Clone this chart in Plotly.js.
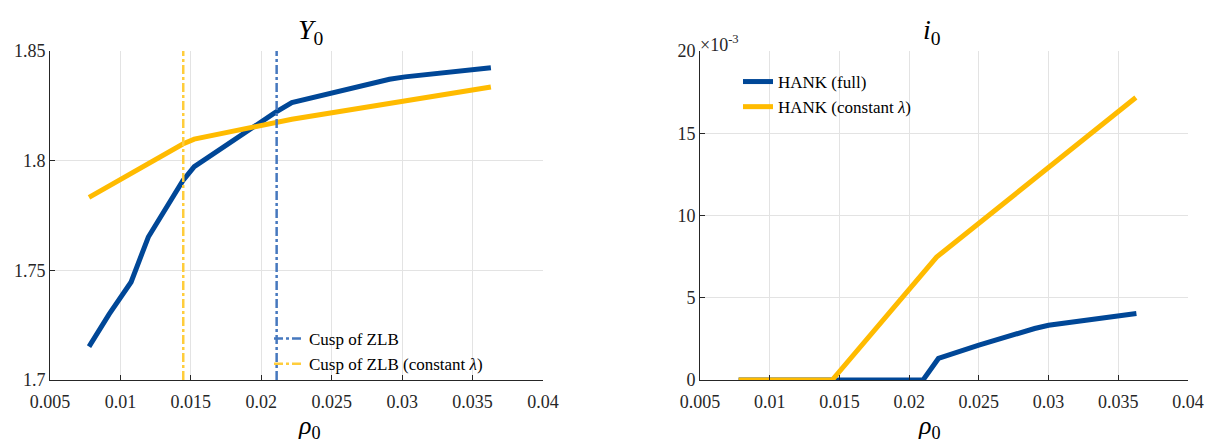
<!DOCTYPE html>
<html><head><meta charset="utf-8">
<script src="https://cdn.plot.ly/plotly-3.0.1.min.js"></script>
<style>html,body{margin:0;padding:0;background:#fff}</style>
</head><body>
<div id="chart" style="width:1211px;height:442px"></div>
<script>
// Left panel: Y0 vs rho0
const rhoFull = [0.00777, 0.0092, 0.01076, 0.01198, 0.01443, 0.01524, 0.0210, 0.02217, 0.0291, 0.0302, 0.0363];
const Y0Full  = [1.7152, 1.7300, 1.7447, 1.7652, 1.7909, 1.7973, 1.8220, 1.8265, 1.8371, 1.8382, 1.8424];
const rhoConst = [0.00777, 0.01443, 0.01524, 0.02217, 0.0363];
const Y0Const  = [1.7833, 1.8076, 1.8098, 1.8189, 1.8336];
// ZLB cusps
const cuspFull = 0.02109;
const cuspConst = 0.01446;
// Right panel: i0 vs rho0
const rhoI_Full = [0.00777, 0.0210, 0.0221, 0.0250, 0.0290, 0.0300, 0.0363];
const i0Full    = [0.0, 0.0, 0.00131, 0.00212, 0.00313, 0.00333, 0.00404];
const rhoI_Const = [0.00777, 0.01448, 0.02197, 0.03626];
const i0Const    = [0.0, 0.0, 0.00747, 0.01717];

const xTicks = [0.005, 0.01, 0.015, 0.02, 0.025, 0.03, 0.035, 0.04];
const xTickText = ['0.005', '0.01', '0.015', '0.02', '0.025', '0.03', '0.035', '0.04'];
const yTicksL = [1.7, 1.75, 1.8, 1.85];
const yTickTextL = ['1.7', '1.75', '1.8', '1.85'];
const yTicksR = [0, 0.005, 0.01, 0.015, 0.02];
const yTickTextR = ['0', '5', '10', '15', '20'];

const BLUE = 'rgb(0,71,151)';
const YEL = 'rgb(255,187,0)';
const FONT = 'Liberation Serif';

const traces = [
  {x: rhoFull, y: Y0Full, mode: 'lines', line: {color: BLUE, width: 5}, showlegend: false, xaxis: 'x', yaxis: 'y'},
  {x: rhoConst, y: Y0Const, mode: 'lines', line: {color: YEL, width: 5}, showlegend: false, xaxis: 'x', yaxis: 'y'},
  {x: [cuspFull, cuspFull], y: [yTicksL[0], yTicksL[3]], mode: 'lines', name: 'Cusp of ZLB',
   line: {color: 'rgb(70,120,190)', width: 2.5, dash: 'dashdot'}, xaxis: 'x', yaxis: 'y', legend: 'legend'},
  {x: [cuspConst, cuspConst], y: [yTicksL[0], yTicksL[3]], mode: 'lines', name: 'Cusp of ZLB (constant <i>λ</i>)',
   line: {color: 'rgb(255,205,60)', width: 2.5, dash: 'dashdot'}, xaxis: 'x', yaxis: 'y', legend: 'legend'},
  {x: rhoI_Full, y: i0Full, mode: 'lines', name: 'HANK (full)', line: {color: BLUE, width: 5}, xaxis: 'x2', yaxis: 'y2', legend: 'legend2'},
  {x: rhoI_Const, y: i0Const, mode: 'lines', name: 'HANK (constant <i>λ</i>)', line: {color: YEL, width: 5}, xaxis: 'x2', yaxis: 'y2', legend: 'legend2'}
];

const axCommon = {
  showgrid: true, gridcolor: '#e3e3e3', gridwidth: 1, zeroline: false,
  showline: true, linecolor: '#262626', linewidth: 1,
  ticks: 'inside', ticklen: 5, tickcolor: '#262626',
  tickfont: {family: FONT, size: 18, color: '#262626'}, tickmode: 'array'
};
const yDom = [62/442, 391/442];

const layout = {
  width: 1211, height: 442,
  margin: {l: 0, r: 0, t: 0, b: 0},
  paper_bgcolor: '#fff', plot_bgcolor: '#fff',
  font: {family: FONT, color: '#262626'},
  xaxis: Object.assign({}, axCommon, {domain: [50/1211, 543/1211], range: [0.005, 0.04], tickvals: xTicks, ticktext: xTickText, anchor: 'y', ticklabelstandoff: 5}),
  yaxis: Object.assign({}, axCommon, {domain: yDom, range: [1.7, 1.85], tickvals: yTicksL, ticktext: yTickTextL, anchor: 'x'}),
  xaxis2: Object.assign({}, axCommon, {domain: [700/1211, 1188/1211], range: [0.005, 0.04], tickvals: xTicks, ticktext: xTickText, anchor: 'y2', ticklabelstandoff: 5}),
  yaxis2: Object.assign({}, axCommon, {domain: yDom, range: [0, 0.02], tickvals: yTicksR, ticktext: yTickTextR, anchor: 'x2'}),
  legend: {x: 269/1211, y: 1 - 321/442, xanchor: 'left', yanchor: 'top', bgcolor: 'rgba(255,255,255,0)',
           font: {family: FONT, size: 17, color: '#000'}},
  legend2: {x: 738/1211, y: 1 - 64/442, xanchor: 'left', yanchor: 'top', bgcolor: 'rgba(255,255,255,0)',
            font: {family: FONT, size: 17, color: '#000'}},
  annotations: [
    {text: '<i>Y</i><sub>0</sub>', x: 296/1211, y: 1 - 12/442, xref: 'paper', yref: 'paper', showarrow: false,
     font: {family: FONT, size: 28, color: '#000'}},
    {text: '<i>i</i><sub>0</sub>', x: 943/1211, y: 1 - 12/442, xref: 'paper', yref: 'paper', showarrow: false,
     font: {family: FONT, size: 28, color: '#000'}},
    {text: '<i>ρ</i><sub>0</sub>', x: 296/1211, y: 0, yanchor: 'bottom', yshift: -3, xref: 'paper', yref: 'paper', showarrow: false,
     font: {family: FONT, size: 26, color: '#000'}},
    {text: '<i>ρ</i><sub>0</sub>', x: 943/1211, y: 0, yanchor: 'bottom', yshift: -3, xref: 'paper', yref: 'paper', showarrow: false,
     font: {family: FONT, size: 26, color: '#000'}},
    {text: '×10<sup>-3</sup>', x: 698/1211, y: 1 - 30/442, xref: 'paper', yref: 'paper', xanchor: 'left', showarrow: false,
     font: {family: FONT, size: 18, color: '#262626'}}
  ]
};

Plotly.newPlot('chart', traces, layout, {staticPlot: true});
</script>
</body></html>
